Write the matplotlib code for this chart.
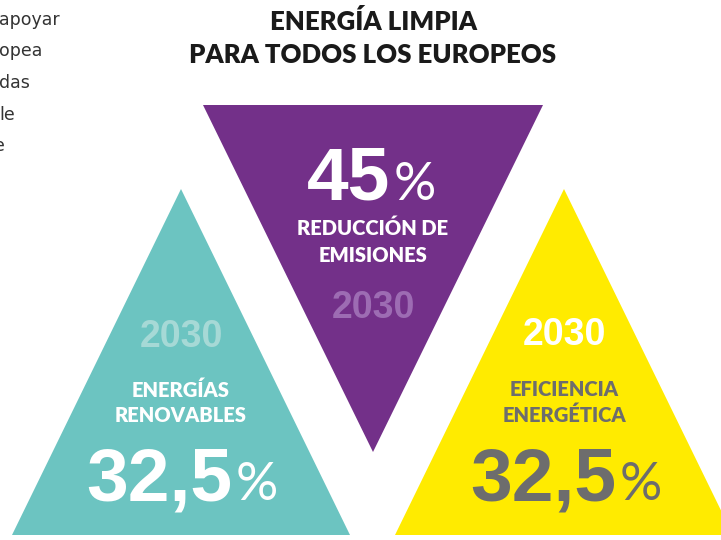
import matplotlib.pyplot as plt
from matplotlib.patches import Polygon

# --- content -------------------------------------------------------------
title_lines = ["ENERGÍA LIMPIA", "PARA TODOS LOS EUROPEOS"]
side_text = ["apoyar", "opea", "das", "le", "e"]

targets = ["32,5", "45", "32,5"]
labels = [["ENERGÍAS", "RENOVABLES"],
          ["REDUCCIÓN DE", "EMISIONES"],
          ["EFICIENCIA", "ENERGÉTICA"]]
years = ["2030", "2030", "2030"]

# --- style / layout ------------------------------------------------------
fill_colors = ["#6cc4c1", "#733089", "#ffeb00"]
number_colors = ["white", "white", "#6d6d6d"]
label_colors = ["white", "white", "#6d6d6d"]
year_colors = ["#a6d9d6", "#9d6cb3", "white"]

# apex x, apex y, half base width, base y (pixels, y grows downward)
tri_x = [181, 373, 564]
tri_apex = [189, 452, 189]
tri_base = [535, 105, 535]
tri_half = [169, 170, 169]

year_y = [337, 308, 335]
label_y = [(390, 415), (228, 255), (390, 415)]
number_y = [500, 200, 500]
split_x = [233, 391, 617]

W, H = 721, 540
fig = plt.figure(figsize=(W / 100, H / 100), dpi=100)
ax = fig.add_axes([0, 0, 1, 1])
ax.set_xlim(0, W)
ax.set_ylim(H, 0)
ax.axis('off')

for i in range(3):
    cx, ya, yb, hw = tri_x[i], tri_apex[i], tri_base[i], tri_half[i]
    tri = Polygon([(cx, ya), (cx - hw, yb), (cx + hw, yb)], closed=True,
                  facecolor=fill_colors[i], edgecolor='none')
    ax.add_patch(tri)

    ax.text(cx, year_y[i], years[i], ha='center', va='center',
            fontsize=27, fontweight='bold', color=year_colors[i],
            family='Liberation Sans')
    for line, y in zip(labels[i], label_y[i]):
        ax.text(cx, y, line, ha='center', va='center', fontsize=14.5,
                fontweight='heavy', color=label_colors[i], family='Lato')
    ax.text(split_x[i] - 1, number_y[i], targets[i], ha='right',
            va='baseline', fontsize=54, fontweight='bold',
            color=number_colors[i], family='Liberation Sans')
    ax.text(split_x[i] + 3, number_y[i], '%', ha='left', va='baseline',
            fontsize=38, color=number_colors[i], family='Lato')

for j, line in enumerate(title_lines):
    ax.text(373, 22 + 33 * j, line, ha='center', va='center', fontsize=18.5,
            fontweight='heavy', color='#1a1a1a', family='Lato')

side_x = [-1, -1, -1, -1, -6]
for j, frag in enumerate(side_text):
    ax.text(side_x[j], 25 + 31.5 * j, frag, ha='left', va='baseline',
            fontsize=12.5, color='#333333', family='DejaVu Sans')

fig.savefig('out.png', dpi=100)
